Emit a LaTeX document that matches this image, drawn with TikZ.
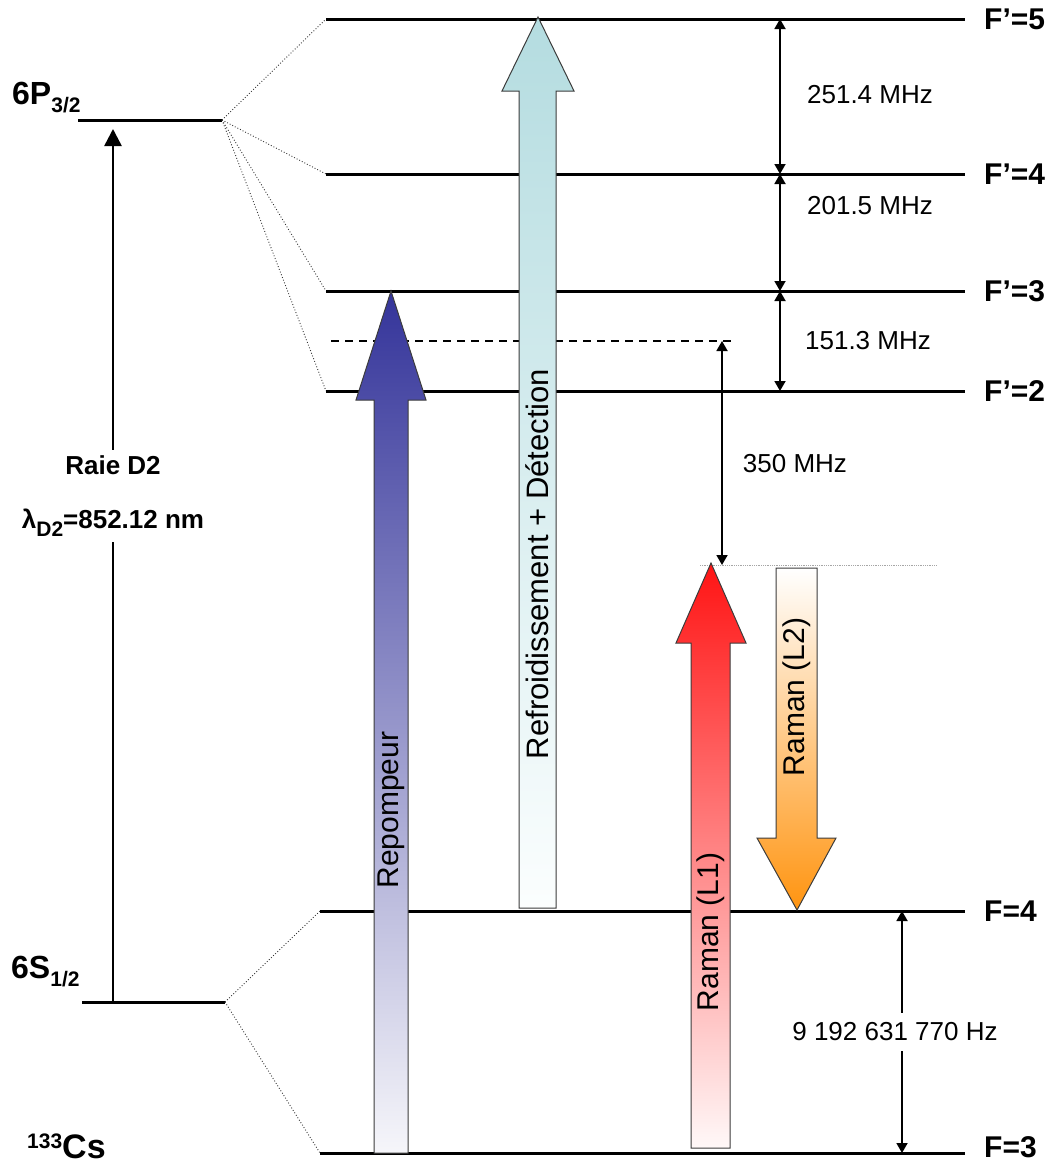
\documentclass[tikz,border=0pt]{standalone}
\usepackage{fontspec}
\setmainfont{Liberation Sans}
\usepackage{xcolor}
\usepackage{tikz}
\usetikzlibrary{arrows.meta,positioning}
\definecolor{repumptop}{HTML}{34349A}
\definecolor{repumpbot}{HTML}{F6F6FA}
\definecolor{cooltop}{HTML}{B4DCE0}
\definecolor{coolbot}{HTML}{FBFEFE}
\definecolor{ramantop}{HTML}{FF1414}
\definecolor{ramanbot}{HTML}{FFF8F8}
\definecolor{ramanorange}{HTML}{FF9410}
\definecolor{beamedge}{HTML}{3C3C3C}
\newcommand\fsz[1]{\fontsize{#1}{#1}\selectfont}
\newcommand\lowtxt[1]{\raisebox{-8pt}{\fsz{21}#1}}
\newcommand\hightxt[1]{\raisebox{10pt}{\fsz{21}#1}}

\begin{document}
\begin{tikzpicture}[x=1pt, y=-1pt,
  lvl/.style={line width=3pt},
  splitline/.style={dotted, line width=0.9pt, black!80},
  hfgap/.style={line width=1.8pt, {Triangle[length=10pt,width=11pt]}-{Triangle[length=10pt,width=11pt]}},
  beam/.style={draw=beamedge, line width=1pt},
  flab/.style={anchor=west, inner sep=0pt, font=\bfseries\fsz{30}},
  freq/.style={inner sep=1pt, font=\fsz{26}},
  beamtxt/.style={rotate=90, inner sep=0pt, font=\fsz{30}}]
  \useasboundingbox (0,0) rectangle (1055,1167);

  % fine structure levels
  \draw[lvl] (78,120) coordinate (pL) -- (222,120) coordinate (pR);
  \draw[lvl] (82,1002) coordinate (sL) -- (225,1002) coordinate (sR);
  \node[anchor=base west, inner sep=0pt, font=\bfseries\fsz{32}] (pName) at (12,104) {6P\lowtxt{3/2}};
  \node[anchor=base west, inner sep=0pt, font=\bfseries\fsz{32}] (sName) at (11,978) {6S\lowtxt{1/2}};
  \node[anchor=base west, inner sep=0pt, font=\bfseries\fsz{34}] (atom) at (27,1158) {\hightxt{133}Cs};

  % hyperfine levels of 6P3/2
  \foreach \y/\n/\t in {19/e5/5, 174/e4/4, 291/e3/3, 391/e2/2} {
    \draw[splitline] (pR) -- (326,\y);
    \draw[lvl] (326,\y) coordinate (\n) -- (965,\y) coordinate (r\n);
    \node[flab] (lab\n) at ([xshift=19pt]r\n) {F'=\t};
  }

  % hyperfine levels of 6S1/2
  \draw[splitline] (sR) -- (320,911);
  \draw[splitline] (sR) -- (320,1153);
  \draw[lvl] (320,911) coordinate (g4) -- (965,911) coordinate (rg4);
  \draw[lvl] (320,1153) coordinate (g3) -- (965,1153) coordinate (rg3);
  \node[flab] (labg4) at ([xshift=19pt]rg4) {F=4};
  \node[flab] (labg3) at ([xshift=19pt, yshift=6pt]rg3) {F=3};

  % virtual level and Raman detuning
  \draw[dashed, dash pattern=on 8pt off 6pt, line width=1.5pt] (331,341) coordinate (vL) -- (735,341) coordinate (vR);
  \draw[densely dotted, gray!70, line width=0.8pt] (700,565) coordinate (vt) -- (937,565);

  % laser beams
  \shade[beam, top color=repumptop, bottom color=repumpbot]
    (374,1153) -- (374,400) -- (356,400) -- (391,291) -- (426,400) -- (408,400) -- (408,1153) -- cycle;
  \shade[beam, top color=cooltop, bottom color=coolbot]
    (519,908) -- (519,91) -- (502,91) -- (538,17) -- (574,91) -- (556,91) -- (556,908) -- cycle;
  \shade[beam, top color=ramantop, bottom color=ramanbot]
    (691,1148) -- (691,643) -- (676,643) -- (711,563) -- (746,643) -- (730,643) -- (730,1148) -- cycle;
  \shade[beam, top color=white, bottom color=ramanorange]
    (776,568) -- (817,568) -- (817,838) -- (836,838) -- (797,910) -- (757,838) -- (776,838) -- cycle;
  \node[beamtxt] (repump) at (391,810) {Repompeur};
  \node[beamtxt, font=\fsz{31}] (cool) at (537,564) {Refroidissement + Détection};
  \node[beamtxt] (ramanA) at (711,932) {Raman (L1)};
  \node[beamtxt] (ramanB) at (797,697) {Raman (L2)};

  % splittings
  \coordinate (hx) at (780,0);
  \draw[hfgap] (e5 -| hx) -- (e4 -| hx);
  \draw[hfgap] (e4 -| hx) -- (e3 -| hx);
  \draw[hfgap] (e3 -| hx) -- (e2 -| hx);
  \node[freq] (f54) at (870,95) {251.4 MHz};
  \node[freq] (f43) at (870,206) {201.5 MHz};
  \node[freq] (f32) at (868,341) {151.3 MHz};

  \coordinate (dx) at (722,0);
  \draw[hfgap] (vR -| dx) -- (vt -| dx);
  \node[freq] (fdet) at (795,464) {350 MHz};

  \coordinate (cx) at (902,0);
  \draw[hfgap] (g4 -| cx) -- (g3 -| cx);
  \node[freq, fill=white, inner xsep=2pt, inner ysep=10pt] (fclk) at (895,1032) {9 192 631 770 Hz};

  % D2 line
  \coordinate (ax) at (113,0);
  \draw[line width=2.5pt, -{Triangle[length=17pt,width=17pt]}, shorten >=9pt] (sL -| ax) -- (pL -| ax);
  \node[fill=white, align=center, inner sep=6pt, font=\bfseries\fsz{26}] (raie) at (113,496)
    {Raie D2\\[28pt]λ\lowtxt{D2}=852.12 nm};
\end{tikzpicture}
\end{document}
